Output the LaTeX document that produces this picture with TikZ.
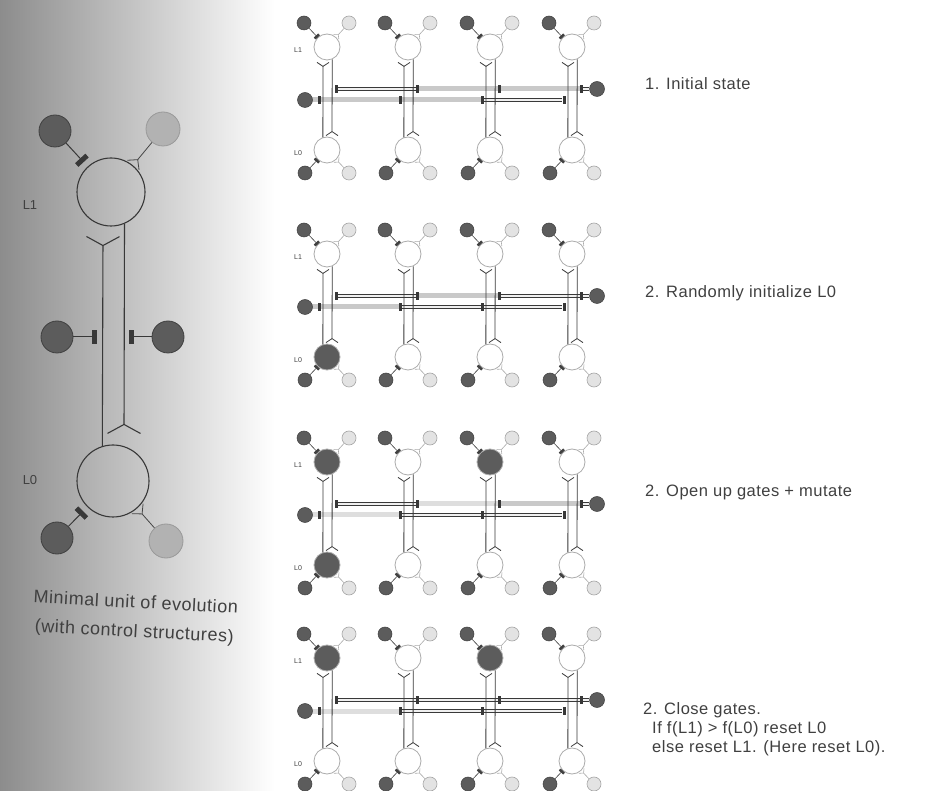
\documentclass[tikz,border=0pt]{standalone}
\usepackage{fontspec}
\setmainfont{Liberation Sans}
\newfontfamily\labfont[LetterSpace=3]{Liberation Sans}
\usetikzlibrary{arrows.meta}
\definecolor{dk}{gray}{0.36}
\definecolor{lt}{gray}{0.70}
\definecolor{lnc}{gray}{0.22}
\definecolor{txt}{gray}{0.25}
\pgfdeclarelayer{back}
\pgfdeclarelayer{bg}
\pgfsetlayers{back,bg,main}
\newcommand\mycolumn{%
  \node[smdk] (\pp\cc tl) at (\xx-23,\py-24) {};
  \node[smlt] (\pp\cc tr) at (\xx+22,\py-24) {};
  \node[midc,fill=\fua] (\pp\cc u) at (\xx,\py) {};
  \node[midc,fill=\fda] (\pp\cc d) at (\xx,\py+103) {};
  \node[smdk] (\pp\cc bl) at (\xx-22,\py+126) {};
  \node[smlt] (\pp\cc br) at (\xx+22,\py+126) {};
  \draw[inhs] (\pp\cc tl) -- (\pp\cc u);
  \draw[excs] (\pp\cc tr) -- (\pp\cc u);
  \draw[inhs] (\pp\cc bl) -- (\pp\cc d);
  \draw[excs] (\pp\cc br) -- (\pp\cc d);
  \coordinate (\pp\cc fl) at (\xx-4,\py+15);
  \coordinate (\pp\cc fr) at (\xx+5,\py+89);
  \draw[forks] (\pp\cc d.108) -- (\pp\cc fl);
  \draw[forks] (\pp\cc u.-67) -- (\pp\cc fr);
  \node[gbar] (\pp\cc ub) at (\xx+9,\py+42) {};
  \node[gbar] (\pp\cc lb) at (\xx-8,\py+53) {};
}
\newcommand\mygates{%
  \node[smdk,minimum size=15pt] (\pp gl) at (305,\py+53) {};
  \node[smdk,minimum size=15pt] (\pp gr) at (597,\py+42) {};
  \node[plbl] (\pp lu) at (298,\py+3) {L1};
  \node[plbl] (\pp ld) at (298,\py+106) {L0};
  \begin{pgfonlayer}{bg}
    \draw[bus] (\pp gl) -- (\pp4lb);
    \draw[bus] (\pp gr) -- (\pp1ub);
  \end{pgfonlayer}
}
\begin{document}
\begin{tikzpicture}[x=1pt,y=-1pt,
  bigc/.style={circle,draw=lnc,line width=1.1pt,inner sep=0pt,minimum size=68pt},
  bigdk/.style={circle,draw=gray!50!black,line width=0.8pt,fill=dk,inner sep=0pt,minimum size=32pt},
  biglt/.style={circle,draw=gray!80,line width=0.8pt,fill=lt,inner sep=0pt,minimum size=34pt},
  inhbig/.style={draw=lnc,line width=1pt,-{Rectangle[length=5pt,width=14pt]}},
  excbig/.style={draw=gray!55!black,line width=0.8pt,-{Straight Barb[reversed,length=7pt,width=15pt]}},
  forkbig/.style={draw=lnc,line width=1.1pt,-{Straight Barb[reversed,length=9pt,width=33pt]}},
  midc/.style={circle,draw=gray!65,line width=0.8pt,inner sep=0pt,minimum size=26pt},
  smdk/.style={circle,draw=gray!50!black,fill=dk,line width=0.5pt,inner sep=0pt,minimum size=14pt},
  smlt/.style={circle,draw=gray!70,fill=gray!22,line width=0.6pt,inner sep=0pt,minimum size=14pt},
  inhs/.style={draw=gray!50!black,line width=0.6pt,-{Rectangle[length=2.5pt,width=6pt]}},
  excs/.style={draw=gray!65,line width=0.6pt,-{Straight Barb[reversed,length=3pt,width=7pt]}},
  forks/.style={draw=gray!45!black,line width=0.8pt,-{Straight Barb[reversed,length=4pt,width=12pt]}},
  gbar/.style={rectangle,fill=lnc,inner sep=0pt,minimum width=3pt,minimum height=8pt},
  bus/.style={draw=gray!45!black,line width=0.5pt,double=gray!12,double distance=2.2pt},
  band/.style={fill=gray!42},
  lband/.style={fill=gray!26},
  plbl/.style={text=txt,font=\fontsize{7}{8}\selectfont,inner sep=0pt},
  lblbig/.style={text=txt,font=\fontsize{13}{15}\selectfont,inner sep=0pt},
  capt/.style={text=txt,font=\labfont\fontsize{18}{29}\selectfont,align=center,rotate=-3,inner sep=0pt},
  stxt/.style={text=txt,font=\labfont\fontsize{16.5}{19}\selectfont,anchor=west,align=left,inner sep=0pt}
]
\useasboundingbox (0,0) rectangle (946,791);
\begin{pgfonlayer}{back}
\fill[white] (0,0) rectangle (946,791);
\shade[left color=black!45,right color=white] (0,0) rectangle (275,791);
\end{pgfonlayer}

% ---------- minimal unit (left)
\node[bigc] (uL1) at (111,192) {};
\node[bigc,minimum size=72pt] (uL0) at (113,481) {};
\node[bigdk] (uTL) at (55,131) {};
\node[biglt] (uTR) at (163,129) {};
\node[bigdk] (uGL) at (57,337) {};
\node[bigdk] (uGR) at (168,337) {};
\node[bigdk] (uBL) at (57,538) {};
\node[biglt] (uBR) at (166,541) {};
\coordinate (uFL) at (103,236);
\coordinate (uFR) at (124,434);
\coordinate (uGLe) at (97,337);
\coordinate (uGRe) at (129,337);
\draw[inhbig,shorten >=6pt] (uTL) -- (uL1);
\draw[excbig] (uTR) -- (uL1);
\draw[inhbig,shorten >=6pt] (uBL) -- (uL0);
\draw[excbig] (uBR) -- (uL0);
\draw[forkbig] (uL0.107) -- (uFL);
\draw[forkbig] (uL1.-67) -- (uFR);
\draw[inhbig] (uGL) -- (uGLe);
\draw[inhbig] (uGR) -- (uGRe);
\node[lblbig] (tL1) at (30,205) {L1};
\node[lblbig] (tL0) at (30,480) {L0};
\node[capt] (tcap) at (135,618) {Minimal unit of evolution\\(with control structures)};

% ---------- panel 1
\def\pp{a}\def\py{47}
\foreach \cc/\xx/\fua/\fda in {1/327/white/white,2/408/white/white,3/490/white/white,4/572/white/white}{\mycolumn}
\mygates
\begin{pgfonlayer}{bg}
\fill[band] (417,\py+39.5) rectangle (581,\py+44.5);
\fill[band] (305,\py+50.5) rectangle (482,\py+55.5);
\end{pgfonlayer}

% ---------- panel 2
\def\pp{b}\def\py{254}
\foreach \cc/\xx/\fua/\fda in {1/327/white/dk,2/408/white/white,3/490/white/white,4/572/white/white}{\mycolumn}
\mygates
\begin{pgfonlayer}{bg}
\fill[band] (417,\py+39.5) rectangle (499,\py+44.5);
\fill[band] (305,\py+50.5) rectangle (400,\py+55.5);
\end{pgfonlayer}

% ---------- panel 3
\def\pp{c}\def\py{462}
\foreach \cc/\xx/\fua/\fda in {1/327/dk/dk,2/408/white/white,3/490/dk/white,4/572/white/white}{\mycolumn}
\mygates
\begin{pgfonlayer}{bg}
\fill[lband] (417,\py+39.5) rectangle (499,\py+44.5);
\fill[band] (499,\py+39.5) rectangle (581,\py+44.5);
\fill[lband] (305,\py+50.5) rectangle (400,\py+55.5);
\end{pgfonlayer}

% ---------- panel 4
\def\pp{d}\def\py{658}
\foreach \cc/\xx/\fua/\fda in {1/327/dk/white,2/408/white/white,3/490/dk/white,4/572/white/white}{\mycolumn}
\mygates
\begin{pgfonlayer}{bg}
\fill[lband] (305,\py+50.5) rectangle (400,\py+55.5);
\end{pgfonlayer}

% ---------- step texts
\node[stxt] (s1) at (645,84) {1. Initial state};
\node[stxt] (s2) at (645,293) {2. Randomly initialize L0};
\node[stxt] (s3) at (645,492) {2. Open up gates + mutate};
\node[stxt] (s4) at (643,729) {2. Close gates.\\\hspace*{9pt}If f(L1) > f(L0) reset L0\\\hspace*{9pt}else reset L1. (Here reset L0).};
\end{tikzpicture}
\end{document}
